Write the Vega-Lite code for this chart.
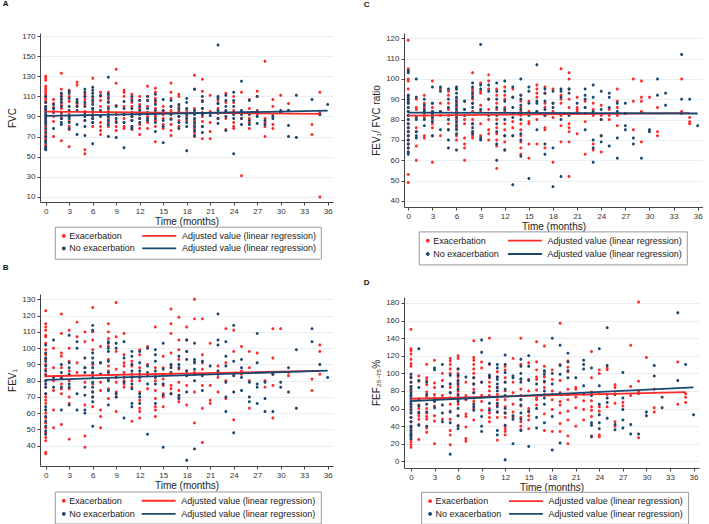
{
"$schema":"https://vega.github.io/schema/vega-lite/v6.json",
"background":"white",
"padding":{"left":2,"top":0,"right":0,"bottom":0},
"config":{
 "font":"Liberation Sans",
 "view":{"stroke":null},
 "axis":{"domainColor":"#444","tickColor":"#444","tickSize":3,"labelFontSize":8,"labelColor":"#333","titleFontSize":10,"titleFontWeight":"normal","titleColor":"#222","labelPadding":2,"domainWidth":1,"tickWidth":1},
 "axisY":{"grid":true,"gridColor":"#e3eaf0","gridWidth":0.8,"labelAngle":0,"titlePadding":4},
 "axisX":{"grid":false,"titlePadding":1},
 "legend":{"orient":"none","labelFontSize":9,"labelColor":"#222","padding":4.5,"title":null,"columns":2,"direction":"vertical","strokeColor":"#9a9a9a","symbolSize":32,"symbolStrokeWidth":1.8,"labelOffset":1,"labelLimit":300},
 "title":{"fontSize":8,"fontWeight":"bold","anchor":"start","frame":"bounds","color":"#111"},
 "point":{"filled":true,"size":73,"opacity":1}
},
"datasets":{
"fvc":[
{"m":0,"v":130,"g":"E"},{"m":0,"v":128,"g":"E"},{"m":0,"v":126,"g":"E"},{"m":0,"v":120,"g":"E"},{"m":0,"v":118,"g":"E"},{"m":0,"v":116,"g":"E"},{"m":0,"v":114,"g":"E"},{"m":0,"v":112,"g":"E"},{"m":0,"v":110,"g":"E"},{"m":0,"v":108,"g":"E"},{"m":0,"v":106,"g":"E"},{"m":0,"v":104,"g":"E"},{"m":0,"v":100,"g":"E"},{"m":0,"v":98,"g":"E"},{"m":0,"v":96,"g":"E"},{"m":0,"v":92,"g":"E"},{"m":0,"v":88,"g":"E"},{"m":0,"v":84,"g":"E"},{"m":0,"v":80,"g":"E"},{"m":0,"v":76,"g":"E"},{"m":0,"v":72,"g":"E"},{"m":0,"v":70,"g":"E"},{"m":0,"v":68,"g":"E"},{"m":0,"v":66,"g":"E"},{"m":0,"v":62,"g":"E"},{"m":0,"v":60,"g":"E"},{"m":0,"v":58,"g":"E"},
{"m":1,"v":107,"g":"E"},{"m":1,"v":103,"g":"E"},{"m":1,"v":99,"g":"E"},{"m":1,"v":95,"g":"E"},{"m":1,"v":90,"g":"E"},{"m":1,"v":85,"g":"E"},{"m":1,"v":70,"g":"E"},
{"m":2,"v":133,"g":"E"},{"m":2,"v":117,"g":"E"},{"m":2,"v":112,"g":"E"},{"m":2,"v":108,"g":"E"},{"m":2,"v":104,"g":"E"},{"m":2,"v":101,"g":"E"},{"m":2,"v":98,"g":"E"},{"m":2,"v":94,"g":"E"},{"m":2,"v":91,"g":"E"},{"m":2,"v":88,"g":"E"},{"m":2,"v":66,"g":"E"},
{"m":3,"v":116,"g":"E"},{"m":3,"v":110,"g":"E"},{"m":3,"v":105,"g":"E"},{"m":3,"v":92,"g":"E"},{"m":3,"v":90,"g":"E"},{"m":3,"v":85,"g":"E"},{"m":3,"v":80,"g":"E"},{"m":3,"v":77,"g":"E"},{"m":3,"v":60,"g":"E"},
{"m":4,"v":124,"g":"E"},{"m":4,"v":121,"g":"E"},{"m":4,"v":105,"g":"E"},{"m":4,"v":103,"g":"E"},{"m":4,"v":100,"g":"E"},
{"m":5,"v":112,"g":"E"},{"m":5,"v":110,"g":"E"},{"m":5,"v":107,"g":"E"},{"m":5,"v":102,"g":"E"},{"m":5,"v":95,"g":"E"},{"m":5,"v":92,"g":"E"},{"m":5,"v":86,"g":"E"},{"m":5,"v":57,"g":"E"},{"m":5,"v":53,"g":"E"},
{"m":6,"v":128,"g":"E"},{"m":6,"v":108,"g":"E"},{"m":6,"v":104,"g":"E"},{"m":6,"v":98,"g":"E"},{"m":6,"v":92,"g":"E"},{"m":6,"v":88,"g":"E"},{"m":6,"v":84,"g":"E"},{"m":6,"v":80,"g":"E"},
{"m":7,"v":114,"g":"E"},{"m":7,"v":110,"g":"E"},{"m":7,"v":106,"g":"E"},{"m":7,"v":100,"g":"E"},{"m":7,"v":95,"g":"E"},{"m":7,"v":84,"g":"E"},{"m":7,"v":80,"g":"E"},{"m":7,"v":76,"g":"E"},{"m":7,"v":72,"g":"E"},
{"m":8,"v":114,"g":"E"},{"m":8,"v":110,"g":"E"},{"m":8,"v":105,"g":"E"},{"m":8,"v":100,"g":"E"},{"m":8,"v":95,"g":"E"},{"m":8,"v":88,"g":"E"},{"m":8,"v":84,"g":"E"},{"m":8,"v":80,"g":"E"},
{"m":9,"v":137,"g":"E"},{"m":9,"v":123,"g":"E"},{"m":9,"v":101,"g":"E"},{"m":9,"v":92,"g":"E"},{"m":9,"v":85,"g":"E"},{"m":9,"v":80,"g":"E"},{"m":9,"v":76,"g":"E"},
{"m":10,"v":116,"g":"E"},{"m":10,"v":114,"g":"E"},{"m":10,"v":110,"g":"E"},{"m":10,"v":100,"g":"E"},{"m":10,"v":92,"g":"E"},{"m":10,"v":88,"g":"E"},{"m":10,"v":84,"g":"E"},{"m":10,"v":80,"g":"E"},{"m":10,"v":78,"g":"E"},
{"m":11,"v":112,"g":"E"},{"m":11,"v":108,"g":"E"},{"m":11,"v":104,"g":"E"},{"m":11,"v":100,"g":"E"},{"m":11,"v":94,"g":"E"},{"m":11,"v":90,"g":"E"},{"m":11,"v":86,"g":"E"},{"m":11,"v":80,"g":"E"},{"m":11,"v":77,"g":"E"},
{"m":12,"v":110,"g":"E"},{"m":12,"v":106,"g":"E"},{"m":12,"v":102,"g":"E"},{"m":12,"v":98,"g":"E"},{"m":12,"v":92,"g":"E"},{"m":12,"v":88,"g":"E"},{"m":12,"v":82,"g":"E"},{"m":12,"v":78,"g":"E"},{"m":12,"v":72,"g":"E"},
{"m":13,"v":120,"g":"E"},{"m":13,"v":110,"g":"E"},{"m":13,"v":106,"g":"E"},{"m":13,"v":100,"g":"E"},{"m":13,"v":90,"g":"E"},{"m":13,"v":84,"g":"E"},{"m":13,"v":78,"g":"E"},
{"m":14,"v":118,"g":"E"},{"m":14,"v":114,"g":"E"},{"m":14,"v":108,"g":"E"},{"m":14,"v":104,"g":"E"},{"m":14,"v":98,"g":"E"},{"m":14,"v":90,"g":"E"},{"m":14,"v":86,"g":"E"},{"m":14,"v":80,"g":"E"},{"m":14,"v":65,"g":"E"},
{"m":15,"v":100,"g":"E"},{"m":15,"v":96,"g":"E"},{"m":15,"v":92,"g":"E"},{"m":15,"v":88,"g":"E"},{"m":15,"v":82,"g":"E"},{"m":15,"v":78,"g":"E"},
{"m":16,"v":123,"g":"E"},{"m":16,"v":114,"g":"E"},{"m":16,"v":108,"g":"E"},{"m":16,"v":100,"g":"E"},{"m":16,"v":96,"g":"E"},{"m":16,"v":88,"g":"E"},{"m":16,"v":82,"g":"E"},{"m":16,"v":76,"g":"E"},{"m":16,"v":71,"g":"E"},
{"m":17,"v":112,"g":"E"},{"m":17,"v":110,"g":"E"},{"m":17,"v":100,"g":"E"},{"m":17,"v":96,"g":"E"},{"m":17,"v":90,"g":"E"},{"m":17,"v":86,"g":"E"},{"m":17,"v":80,"g":"E"},
{"m":18,"v":96,"g":"E"},{"m":18,"v":90,"g":"E"},{"m":18,"v":86,"g":"E"},
{"m":19,"v":131,"g":"E"},{"m":19,"v":117,"g":"E"},{"m":19,"v":98,"g":"E"},{"m":19,"v":94,"g":"E"},{"m":19,"v":86,"g":"E"},{"m":19,"v":82,"g":"E"},{"m":19,"v":78,"g":"E"},{"m":19,"v":74,"g":"E"},{"m":19,"v":70,"g":"E"},
{"m":20,"v":127,"g":"E"},{"m":20,"v":115,"g":"E"},{"m":20,"v":106,"g":"E"},{"m":20,"v":98,"g":"E"},{"m":20,"v":94,"g":"E"},{"m":20,"v":90,"g":"E"},{"m":20,"v":85,"g":"E"},{"m":20,"v":80,"g":"E"},{"m":20,"v":68,"g":"E"},
{"m":21,"v":111,"g":"E"},{"m":21,"v":95,"g":"E"},{"m":21,"v":84,"g":"E"},{"m":21,"v":75,"g":"E"},{"m":21,"v":68,"g":"E"},
{"m":22,"v":106,"g":"E"},{"m":22,"v":103,"g":"E"},{"m":22,"v":98,"g":"E"},{"m":22,"v":93,"g":"E"},{"m":22,"v":88,"g":"E"},
{"m":23,"v":113,"g":"E"},{"m":23,"v":104,"g":"E"},{"m":23,"v":95,"g":"E"},{"m":23,"v":88,"g":"E"},{"m":23,"v":77,"g":"E"},
{"m":24,"v":110,"g":"E"},{"m":24,"v":104,"g":"E"},{"m":24,"v":96,"g":"E"},{"m":24,"v":84,"g":"E"},{"m":24,"v":80,"g":"E"},{"m":24,"v":78,"g":"E"},
{"m":25,"v":114,"g":"E"},{"m":25,"v":94,"g":"E"},{"m":25,"v":88,"g":"E"},{"m":25,"v":31,"g":"E"},
{"m":26,"v":107,"g":"E"},{"m":26,"v":98,"g":"E"},{"m":26,"v":88,"g":"E"},{"m":26,"v":84,"g":"E"},{"m":26,"v":78,"g":"E"},
{"m":27,"v":115,"g":"E"},{"m":27,"v":110,"g":"E"},{"m":27,"v":96,"g":"E"},{"m":27,"v":92,"g":"E"},
{"m":28,"v":145,"g":"E"},{"m":28,"v":88,"g":"E"},{"m":28,"v":84,"g":"E"},{"m":28,"v":80,"g":"E"},{"m":28,"v":70,"g":"E"},
{"m":29,"v":107,"g":"E"},{"m":29,"v":100,"g":"E"},{"m":29,"v":92,"g":"E"},{"m":29,"v":82,"g":"E"},{"m":29,"v":78,"g":"E"},
{"m":30,"v":111,"g":"E"},{"m":30,"v":94,"g":"E"},
{"m":31,"v":103,"g":"E"},{"m":31,"v":96,"g":"E"},
{"m":34,"v":82,"g":"E"},{"m":34,"v":72,"g":"E"},
{"m":35,"v":114,"g":"E"},{"m":35,"v":94,"g":"E"},{"m":35,"v":92,"g":"E"},{"m":35,"v":10,"g":"E"},
{"m":0,"v":110,"g":"N"},{"m":0,"v":104,"g":"N"},{"m":0,"v":100,"g":"N"},{"m":0,"v":98,"g":"N"},{"m":0,"v":96,"g":"N"},{"m":0,"v":94,"g":"N"},{"m":0,"v":92,"g":"N"},{"m":0,"v":90,"g":"N"},{"m":0,"v":88,"g":"N"},{"m":0,"v":86,"g":"N"},{"m":0,"v":84,"g":"N"},{"m":0,"v":82,"g":"N"},{"m":0,"v":78,"g":"N"},{"m":0,"v":74,"g":"N"},{"m":0,"v":70,"g":"N"},{"m":0,"v":66,"g":"N"},{"m":0,"v":64,"g":"N"},{"m":0,"v":60,"g":"N"},{"m":0,"v":58,"g":"N"},{"m":0,"v":57,"g":"N"},
{"m":1,"v":102,"g":"N"},{"m":1,"v":98,"g":"N"},{"m":1,"v":94,"g":"N"},{"m":1,"v":78,"g":"N"},
{"m":2,"v":113,"g":"N"},{"m":2,"v":110,"g":"N"},{"m":2,"v":107,"g":"N"},{"m":2,"v":104,"g":"N"},{"m":2,"v":100,"g":"N"},{"m":2,"v":94,"g":"N"},{"m":2,"v":88,"g":"N"},{"m":2,"v":84,"g":"N"},{"m":2,"v":82,"g":"N"},
{"m":3,"v":115,"g":"N"},{"m":3,"v":113,"g":"N"},{"m":3,"v":108,"g":"N"},{"m":3,"v":100,"g":"N"},{"m":3,"v":96,"g":"N"},{"m":3,"v":90,"g":"N"},{"m":3,"v":88,"g":"N"},{"m":3,"v":84,"g":"N"},{"m":3,"v":78,"g":"N"},
{"m":4,"v":107,"g":"N"},{"m":4,"v":104,"g":"N"},{"m":4,"v":100,"g":"N"},{"m":4,"v":96,"g":"N"},{"m":4,"v":82,"g":"N"},{"m":4,"v":72,"g":"N"},
{"m":5,"v":117,"g":"N"},{"m":5,"v":114,"g":"N"},{"m":5,"v":110,"g":"N"},{"m":5,"v":104,"g":"N"},{"m":5,"v":100,"g":"N"},{"m":5,"v":94,"g":"N"},{"m":5,"v":90,"g":"N"},{"m":5,"v":86,"g":"N"},{"m":5,"v":80,"g":"N"},{"m":5,"v":71,"g":"N"},
{"m":6,"v":119,"g":"N"},{"m":6,"v":116,"g":"N"},{"m":6,"v":113,"g":"N"},{"m":6,"v":110,"g":"N"},{"m":6,"v":106,"g":"N"},{"m":6,"v":102,"g":"N"},{"m":6,"v":98,"g":"N"},{"m":6,"v":95,"g":"N"},{"m":6,"v":91,"g":"N"},{"m":6,"v":88,"g":"N"},{"m":6,"v":84,"g":"N"},{"m":6,"v":63,"g":"N"},
{"m":7,"v":111,"g":"N"},{"m":7,"v":96,"g":"N"},{"m":7,"v":90,"g":"N"},
{"m":8,"v":129,"g":"N"},{"m":8,"v":112,"g":"N"},{"m":8,"v":108,"g":"N"},{"m":8,"v":104,"g":"N"},{"m":8,"v":98,"g":"N"},{"m":8,"v":94,"g":"N"},{"m":8,"v":90,"g":"N"},{"m":8,"v":86,"g":"N"},{"m":8,"v":82,"g":"N"},{"m":8,"v":70,"g":"N"},
{"m":9,"v":100,"g":"N"},{"m":9,"v":88,"g":"N"},{"m":9,"v":84,"g":"N"},{"m":9,"v":69,"g":"N"},
{"m":10,"v":105,"g":"N"},{"m":10,"v":98,"g":"N"},{"m":10,"v":92,"g":"N"},{"m":10,"v":84,"g":"N"},{"m":10,"v":59,"g":"N"},
{"m":11,"v":110,"g":"N"},{"m":11,"v":106,"g":"N"},{"m":11,"v":98,"g":"N"},{"m":11,"v":94,"g":"N"},{"m":11,"v":90,"g":"N"},{"m":11,"v":86,"g":"N"},{"m":11,"v":80,"g":"N"},{"m":11,"v":78,"g":"N"},
{"m":12,"v":106,"g":"N"},{"m":12,"v":100,"g":"N"},{"m":12,"v":96,"g":"N"},{"m":12,"v":92,"g":"N"},{"m":12,"v":88,"g":"N"},{"m":12,"v":84,"g":"N"},
{"m":13,"v":110,"g":"N"},{"m":13,"v":106,"g":"N"},{"m":13,"v":98,"g":"N"},{"m":13,"v":94,"g":"N"},{"m":13,"v":88,"g":"N"},{"m":13,"v":86,"g":"N"},
{"m":14,"v":112,"g":"N"},{"m":14,"v":106,"g":"N"},{"m":14,"v":102,"g":"N"},{"m":14,"v":96,"g":"N"},{"m":14,"v":92,"g":"N"},{"m":14,"v":88,"g":"N"},{"m":14,"v":84,"g":"N"},{"m":14,"v":75,"g":"N"},
{"m":15,"v":107,"g":"N"},{"m":15,"v":96,"g":"N"},{"m":15,"v":86,"g":"N"},{"m":15,"v":80,"g":"N"},{"m":15,"v":64,"g":"N"},
{"m":16,"v":106,"g":"N"},{"m":16,"v":100,"g":"N"},{"m":16,"v":92,"g":"N"},{"m":16,"v":87,"g":"N"},
{"m":17,"v":102,"g":"N"},{"m":17,"v":98,"g":"N"},{"m":17,"v":94,"g":"N"},{"m":17,"v":90,"g":"N"},{"m":17,"v":84,"g":"N"},{"m":17,"v":78,"g":"N"},
{"m":18,"v":108,"g":"N"},{"m":18,"v":104,"g":"N"},{"m":18,"v":98,"g":"N"},{"m":18,"v":92,"g":"N"},{"m":18,"v":88,"g":"N"},{"m":18,"v":84,"g":"N"},{"m":18,"v":80,"g":"N"},{"m":18,"v":56,"g":"N"},
{"m":19,"v":117,"g":"N"},{"m":19,"v":96,"g":"N"},{"m":19,"v":92,"g":"N"},{"m":19,"v":88,"g":"N"},{"m":19,"v":84,"g":"N"},{"m":19,"v":80,"g":"N"},{"m":19,"v":76,"g":"N"},{"m":19,"v":71,"g":"N"},
{"m":20,"v":110,"g":"N"},{"m":20,"v":105,"g":"N"},{"m":20,"v":98,"g":"N"},{"m":20,"v":92,"g":"N"},{"m":20,"v":80,"g":"N"},{"m":20,"v":74,"g":"N"},
{"m":21,"v":91,"g":"N"},
{"m":22,"v":161,"g":"N"},{"m":22,"v":110,"g":"N"},{"m":22,"v":108,"g":"N"},{"m":22,"v":103,"g":"N"},{"m":22,"v":96,"g":"N"},{"m":22,"v":88,"g":"N"},{"m":22,"v":83,"g":"N"},
{"m":23,"v":111,"g":"N"},{"m":23,"v":106,"g":"N"},{"m":23,"v":100,"g":"N"},{"m":23,"v":96,"g":"N"},{"m":23,"v":90,"g":"N"},{"m":23,"v":76,"g":"N"},
{"m":24,"v":114,"g":"N"},{"m":24,"v":106,"g":"N"},{"m":24,"v":100,"g":"N"},{"m":24,"v":94,"g":"N"},{"m":24,"v":92,"g":"N"},{"m":24,"v":88,"g":"N"},{"m":24,"v":53,"g":"N"},
{"m":25,"v":125,"g":"N"},{"m":25,"v":96,"g":"N"},{"m":25,"v":92,"g":"N"},{"m":25,"v":88,"g":"N"},{"m":25,"v":82,"g":"N"},
{"m":26,"v":106,"g":"N"},{"m":26,"v":92,"g":"N"},{"m":26,"v":86,"g":"N"},{"m":26,"v":82,"g":"N"},
{"m":27,"v":110,"g":"N"},{"m":27,"v":95,"g":"N"},{"m":27,"v":90,"g":"N"},{"m":27,"v":83,"g":"N"},
{"m":28,"v":86,"g":"N"},{"m":28,"v":82,"g":"N"},
{"m":29,"v":90,"g":"N"},{"m":29,"v":88,"g":"N"},
{"m":30,"v":96,"g":"N"},{"m":30,"v":94,"g":"N"},
{"m":31,"v":96,"g":"N"},{"m":31,"v":81,"g":"N"},{"m":31,"v":70,"g":"N"},
{"m":32,"v":111,"g":"N"},{"m":32,"v":69,"g":"N"},
{"m":34,"v":107,"g":"N"},{"m":35,"v":92,"g":"N"},{"m":36,"v":102,"g":"N"}
],
"fvcFit":[{"m":0,"v":94.8,"g":"Ef"},{"m":35,"v":92.6,"g":"Ef"},{"m":0,"v":90.6,"g":"Nf"},{"m":36,"v":95.8,"g":"Nf"}],
"ratio":[
{"m":0,"v":119,"g":"E"},{"m":0,"v":105,"g":"E"},{"m":0,"v":104,"g":"E"},{"m":0,"v":100,"g":"E"},{"m":0,"v":99,"g":"E"},{"m":0,"v":95,"g":"E"},{"m":0,"v":92,"g":"E"},{"m":0,"v":90,"g":"E"},{"m":0,"v":88,"g":"E"},{"m":0,"v":86,"g":"E"},{"m":0,"v":84,"g":"E"},{"m":0,"v":82,"g":"E"},{"m":0,"v":80,"g":"E"},{"m":0,"v":78,"g":"E"},{"m":0,"v":76,"g":"E"},{"m":0,"v":74,"g":"E"},{"m":0,"v":72,"g":"E"},{"m":0,"v":70,"g":"E"},{"m":0,"v":68,"g":"E"},{"m":0,"v":66,"g":"E"},{"m":0,"v":64,"g":"E"},{"m":0,"v":53,"g":"E"},{"m":0,"v":49,"g":"E"},
{"m":1,"v":90,"g":"E"},{"m":1,"v":86,"g":"E"},{"m":1,"v":85,"g":"E"},{"m":1,"v":76,"g":"E"},{"m":1,"v":74,"g":"E"},{"m":1,"v":67,"g":"E"},{"m":1,"v":60,"g":"E"},
{"m":2,"v":92,"g":"E"},{"m":2,"v":88,"g":"E"},{"m":2,"v":86,"g":"E"},{"m":2,"v":83,"g":"E"},{"m":2,"v":81,"g":"E"},{"m":2,"v":72,"g":"E"},{"m":2,"v":71,"g":"E"},
{"m":3,"v":99,"g":"E"},{"m":3,"v":88,"g":"E"},{"m":3,"v":86,"g":"E"},{"m":3,"v":84,"g":"E"},{"m":3,"v":82,"g":"E"},{"m":3,"v":80,"g":"E"},{"m":3,"v":78,"g":"E"},{"m":3,"v":76,"g":"E"},{"m":3,"v":72,"g":"E"},{"m":3,"v":59,"g":"E"},
{"m":4,"v":95,"g":"E"},{"m":4,"v":88,"g":"E"},{"m":4,"v":84,"g":"E"},{"m":4,"v":82,"g":"E"},{"m":4,"v":72,"g":"E"},
{"m":5,"v":94,"g":"E"},{"m":5,"v":92,"g":"E"},{"m":5,"v":88,"g":"E"},{"m":5,"v":85,"g":"E"},{"m":5,"v":82,"g":"E"},{"m":5,"v":78,"g":"E"},{"m":5,"v":75,"g":"E"},
{"m":6,"v":95,"g":"E"},{"m":6,"v":90,"g":"E"},{"m":6,"v":88,"g":"E"},{"m":6,"v":86,"g":"E"},{"m":6,"v":84,"g":"E"},{"m":6,"v":82,"g":"E"},{"m":6,"v":80,"g":"E"},{"m":6,"v":78,"g":"E"},{"m":6,"v":76,"g":"E"},{"m":6,"v":72,"g":"E"},{"m":6,"v":70,"g":"E"},
{"m":7,"v":89,"g":"E"},{"m":7,"v":85,"g":"E"},{"m":7,"v":82,"g":"E"},{"m":7,"v":80,"g":"E"},{"m":7,"v":78,"g":"E"},{"m":7,"v":71,"g":"E"},{"m":7,"v":68,"g":"E"},{"m":7,"v":66,"g":"E"},{"m":7,"v":60,"g":"E"},
{"m":8,"v":103,"g":"E"},{"m":8,"v":95,"g":"E"},{"m":8,"v":94,"g":"E"},{"m":8,"v":92,"g":"E"},{"m":8,"v":90,"g":"E"},{"m":8,"v":88,"g":"E"},{"m":8,"v":84,"g":"E"},{"m":8,"v":80,"g":"E"},{"m":8,"v":78,"g":"E"},{"m":8,"v":74,"g":"E"},{"m":8,"v":72,"g":"E"},{"m":8,"v":71,"g":"E"},
{"m":9,"v":98,"g":"E"},{"m":9,"v":94,"g":"E"},{"m":9,"v":93,"g":"E"},{"m":9,"v":87,"g":"E"},{"m":9,"v":84,"g":"E"},{"m":9,"v":78,"g":"E"},{"m":9,"v":72,"g":"E"},
{"m":10,"v":102,"g":"E"},{"m":10,"v":99,"g":"E"},{"m":10,"v":95,"g":"E"},{"m":10,"v":90,"g":"E"},{"m":10,"v":85,"g":"E"},{"m":10,"v":80,"g":"E"},{"m":10,"v":75,"g":"E"},{"m":10,"v":73,"g":"E"},{"m":10,"v":70,"g":"E"},
{"m":11,"v":95,"g":"E"},{"m":11,"v":92,"g":"E"},{"m":11,"v":88,"g":"E"},{"m":11,"v":85,"g":"E"},{"m":11,"v":80,"g":"E"},{"m":11,"v":76,"g":"E"},{"m":11,"v":73,"g":"E"},{"m":11,"v":70,"g":"E"},{"m":11,"v":67,"g":"E"},{"m":11,"v":56,"g":"E"},
{"m":12,"v":96,"g":"E"},{"m":12,"v":92,"g":"E"},{"m":12,"v":90,"g":"E"},{"m":12,"v":86,"g":"E"},{"m":12,"v":84,"g":"E"},{"m":12,"v":78,"g":"E"},{"m":12,"v":75,"g":"E"},{"m":12,"v":72,"g":"E"},{"m":12,"v":69,"g":"E"},{"m":12,"v":65,"g":"E"},
{"m":13,"v":95,"g":"E"},{"m":13,"v":91,"g":"E"},{"m":13,"v":83,"g":"E"},{"m":13,"v":79,"g":"E"},{"m":13,"v":76,"g":"E"},{"m":13,"v":72,"g":"E"},
{"m":14,"v":92,"g":"E"},{"m":14,"v":89,"g":"E"},{"m":14,"v":86,"g":"E"},{"m":14,"v":84,"g":"E"},{"m":14,"v":82,"g":"E"},{"m":14,"v":78,"g":"E"},{"m":14,"v":75,"g":"E"},{"m":14,"v":72,"g":"E"},{"m":14,"v":69,"g":"E"},{"m":14,"v":66,"g":"E"},{"m":14,"v":63,"g":"E"},
{"m":15,"v":89,"g":"E"},{"m":15,"v":84,"g":"E"},{"m":15,"v":79,"g":"E"},{"m":15,"v":78,"g":"E"},{"m":15,"v":68,"g":"E"},{"m":15,"v":61,"g":"E"},
{"m":16,"v":97,"g":"E"},{"m":16,"v":95,"g":"E"},{"m":16,"v":93,"g":"E"},{"m":16,"v":91,"g":"E"},{"m":16,"v":84,"g":"E"},{"m":16,"v":80,"g":"E"},{"m":16,"v":68,"g":"E"},
{"m":17,"v":96,"g":"E"},{"m":17,"v":93,"g":"E"},{"m":17,"v":88,"g":"E"},{"m":17,"v":86,"g":"E"},{"m":17,"v":82,"g":"E"},{"m":17,"v":76,"g":"E"},{"m":17,"v":75,"g":"E"},{"m":17,"v":66,"g":"E"},
{"m":18,"v":95,"g":"E"},{"m":18,"v":88,"g":"E"},{"m":18,"v":84,"g":"E"},{"m":18,"v":81,"g":"E"},{"m":18,"v":59,"g":"E"},
{"m":19,"v":105,"g":"E"},{"m":19,"v":92,"g":"E"},{"m":19,"v":90,"g":"E"},{"m":19,"v":88,"g":"E"},{"m":19,"v":82,"g":"E"},{"m":19,"v":77,"g":"E"},{"m":19,"v":69,"g":"E"},
{"m":20,"v":103,"g":"E"},{"m":20,"v":100,"g":"E"},{"m":20,"v":95,"g":"E"},{"m":20,"v":90,"g":"E"},{"m":20,"v":86,"g":"E"},{"m":20,"v":78,"g":"E"},{"m":20,"v":76,"g":"E"},{"m":20,"v":74,"g":"E"},{"m":20,"v":69,"g":"E"},{"m":20,"v":52,"g":"E"},
{"m":21,"v":91,"g":"E"},{"m":21,"v":86,"g":"E"},{"m":21,"v":85,"g":"E"},{"m":21,"v":84,"g":"E"},{"m":21,"v":73,"g":"E"},
{"m":22,"v":89,"g":"E"},{"m":22,"v":86,"g":"E"},{"m":22,"v":83,"g":"E"},{"m":22,"v":79,"g":"E"},{"m":22,"v":63,"g":"E"},
{"m":23,"v":88,"g":"E"},{"m":23,"v":85,"g":"E"},{"m":23,"v":82,"g":"E"},{"m":23,"v":68,"g":"E"},{"m":23,"v":65,"g":"E"},
{"m":24,"v":87,"g":"E"},{"m":24,"v":82,"g":"E"},{"m":24,"v":80,"g":"E"},{"m":24,"v":72,"g":"E"},{"m":24,"v":64,"g":"E"},
{"m":25,"v":85,"g":"E"},{"m":25,"v":82,"g":"E"},{"m":25,"v":80,"g":"E"},
{"m":26,"v":95,"g":"E"},{"m":26,"v":89,"g":"E"},{"m":26,"v":86,"g":"E"},{"m":26,"v":82,"g":"E"},{"m":26,"v":77,"g":"E"},
{"m":28,"v":100,"g":"E"},{"m":28,"v":89,"g":"E"},{"m":28,"v":75,"g":"E"},
{"m":29,"v":99,"g":"E"},{"m":29,"v":91,"g":"E"},{"m":29,"v":89,"g":"E"},{"m":29,"v":84,"g":"E"},{"m":29,"v":69,"g":"E"},
{"m":30,"v":91,"g":"E"},
{"m":31,"v":86,"g":"E"},{"m":31,"v":74,"g":"E"},{"m":31,"v":72,"g":"E"},
{"m":34,"v":100,"g":"E"},{"m":34,"v":84,"g":"E"},{"m":34,"v":83,"g":"E"},
{"m":35,"v":81,"g":"E"},{"m":35,"v":79,"g":"E"},{"m":35,"v":78,"g":"E"},
{"m":0,"v":104,"g":"N"},{"m":0,"v":103,"g":"N"},{"m":0,"v":92,"g":"N"},{"m":0,"v":91,"g":"N"},{"m":0,"v":90,"g":"N"},{"m":0,"v":89,"g":"N"},{"m":0,"v":88,"g":"N"},{"m":0,"v":86,"g":"N"},{"m":0,"v":84,"g":"N"},{"m":0,"v":82,"g":"N"},{"m":0,"v":80,"g":"N"},{"m":0,"v":78,"g":"N"},{"m":0,"v":76,"g":"N"},{"m":0,"v":74,"g":"N"},{"m":0,"v":72,"g":"N"},{"m":0,"v":70,"g":"N"},{"m":0,"v":68,"g":"N"},{"m":0,"v":66,"g":"N"},{"m":0,"v":64,"g":"N"},{"m":0,"v":63,"g":"N"},
{"m":1,"v":100,"g":"N"},{"m":1,"v":91,"g":"N"},{"m":1,"v":81,"g":"N"},{"m":1,"v":80,"g":"N"},{"m":1,"v":74,"g":"N"},{"m":1,"v":72,"g":"N"},{"m":1,"v":71,"g":"N"},
{"m":2,"v":90,"g":"N"},{"m":2,"v":87,"g":"N"},{"m":2,"v":85,"g":"N"},{"m":2,"v":84,"g":"N"},{"m":2,"v":80,"g":"N"},{"m":2,"v":77,"g":"N"},
{"m":3,"v":96,"g":"N"},{"m":3,"v":88,"g":"N"},{"m":3,"v":84,"g":"N"},{"m":3,"v":83,"g":"N"},{"m":3,"v":82,"g":"N"},{"m":3,"v":81,"g":"N"},{"m":3,"v":79,"g":"N"},{"m":3,"v":72,"g":"N"},
{"m":4,"v":96,"g":"N"},{"m":4,"v":94,"g":"N"},{"m":4,"v":84,"g":"N"},{"m":4,"v":75,"g":"N"},
{"m":5,"v":95,"g":"N"},{"m":5,"v":90,"g":"N"},{"m":5,"v":86,"g":"N"},{"m":5,"v":80,"g":"N"},{"m":5,"v":75,"g":"N"},{"m":5,"v":70,"g":"N"},{"m":5,"v":66,"g":"N"},
{"m":6,"v":96,"g":"N"},{"m":6,"v":95,"g":"N"},{"m":6,"v":93,"g":"N"},{"m":6,"v":91,"g":"N"},{"m":6,"v":89,"g":"N"},{"m":6,"v":87,"g":"N"},{"m":6,"v":85,"g":"N"},{"m":6,"v":83,"g":"N"},{"m":6,"v":81,"g":"N"},{"m":6,"v":79,"g":"N"},{"m":6,"v":77,"g":"N"},{"m":6,"v":75,"g":"N"},{"m":6,"v":73,"g":"N"},{"m":6,"v":65,"g":"N"},
{"m":7,"v":89,"g":"N"},{"m":7,"v":85,"g":"N"},{"m":7,"v":82,"g":"N"},
{"m":8,"v":98,"g":"N"},{"m":8,"v":96,"g":"N"},{"m":8,"v":93,"g":"N"},{"m":8,"v":91,"g":"N"},{"m":8,"v":88,"g":"N"},{"m":8,"v":86,"g":"N"},{"m":8,"v":78,"g":"N"},{"m":8,"v":76,"g":"N"},{"m":8,"v":74,"g":"N"},{"m":8,"v":73,"g":"N"},
{"m":9,"v":117,"g":"N"},{"m":9,"v":97,"g":"N"},{"m":9,"v":95,"g":"N"},{"m":9,"v":85,"g":"N"},{"m":9,"v":71,"g":"N"},{"m":9,"v":70,"g":"N"},
{"m":10,"v":97,"g":"N"},{"m":10,"v":94,"g":"N"},{"m":10,"v":90,"g":"N"},{"m":10,"v":82,"g":"N"},
{"m":11,"v":98,"g":"N"},{"m":11,"v":94,"g":"N"},{"m":11,"v":90,"g":"N"},{"m":11,"v":86,"g":"N"},{"m":11,"v":82,"g":"N"},{"m":11,"v":78,"g":"N"},{"m":11,"v":74,"g":"N"},{"m":11,"v":68,"g":"N"},{"m":11,"v":60,"g":"N"},
{"m":12,"v":99,"g":"N"},{"m":12,"v":94,"g":"N"},{"m":12,"v":89,"g":"N"},{"m":12,"v":85,"g":"N"},{"m":12,"v":80,"g":"N"},{"m":12,"v":72,"g":"N"},{"m":12,"v":65,"g":"N"},
{"m":13,"v":96,"g":"N"},{"m":13,"v":91,"g":"N"},{"m":13,"v":86,"g":"N"},{"m":13,"v":81,"g":"N"},{"m":13,"v":72,"g":"N"},{"m":13,"v":48,"g":"N"},
{"m":14,"v":100,"g":"N"},{"m":14,"v":92,"g":"N"},{"m":14,"v":90,"g":"N"},{"m":14,"v":87,"g":"N"},{"m":14,"v":85,"g":"N"},{"m":14,"v":83,"g":"N"},{"m":14,"v":80,"g":"N"},{"m":14,"v":73,"g":"N"},{"m":14,"v":70,"g":"N"},{"m":14,"v":62,"g":"N"},
{"m":15,"v":96,"g":"N"},{"m":15,"v":94,"g":"N"},{"m":15,"v":88,"g":"N"},{"m":15,"v":82,"g":"N"},{"m":15,"v":51,"g":"N"},
{"m":16,"v":107,"g":"N"},{"m":16,"v":89,"g":"N"},{"m":16,"v":88,"g":"N"},{"m":16,"v":84,"g":"N"},{"m":16,"v":75,"g":"N"},
{"m":17,"v":95,"g":"N"},{"m":17,"v":93,"g":"N"},{"m":17,"v":89,"g":"N"},{"m":17,"v":85,"g":"N"},{"m":17,"v":82,"g":"N"},{"m":17,"v":68,"g":"N"},{"m":17,"v":63,"g":"N"},
{"m":18,"v":94,"g":"N"},{"m":18,"v":88,"g":"N"},{"m":18,"v":86,"g":"N"},{"m":18,"v":66,"g":"N"},{"m":18,"v":47,"g":"N"},
{"m":19,"v":95,"g":"N"},{"m":19,"v":94,"g":"N"},{"m":19,"v":91,"g":"N"},{"m":19,"v":80,"g":"N"},{"m":19,"v":52,"g":"N"},
{"m":20,"v":95,"g":"N"},{"m":20,"v":93,"g":"N"},{"m":20,"v":82,"g":"N"},
{"m":21,"v":88,"g":"N"},
{"m":22,"v":95,"g":"N"},{"m":22,"v":92,"g":"N"},{"m":22,"v":90,"g":"N"},{"m":22,"v":86,"g":"N"},{"m":22,"v":75,"g":"N"},
{"m":23,"v":97,"g":"N"},{"m":23,"v":91,"g":"N"},{"m":23,"v":84,"g":"N"},{"m":23,"v":70,"g":"N"},{"m":23,"v":66,"g":"N"},{"m":23,"v":59,"g":"N"},
{"m":24,"v":94,"g":"N"},{"m":24,"v":85,"g":"N"},{"m":24,"v":80,"g":"N"},{"m":24,"v":72,"g":"N"},{"m":24,"v":69,"g":"N"},
{"m":25,"v":93,"g":"N"},{"m":25,"v":91,"g":"N"},{"m":25,"v":86,"g":"N"},{"m":25,"v":67,"g":"N"},
{"m":26,"v":88,"g":"N"},{"m":26,"v":84,"g":"N"},{"m":26,"v":71,"g":"N"},{"m":26,"v":61,"g":"N"},
{"m":27,"v":88,"g":"N"},{"m":27,"v":83,"g":"N"},{"m":27,"v":77,"g":"N"},{"m":27,"v":75,"g":"N"},
{"m":28,"v":71,"g":"N"},{"m":28,"v":68,"g":"N"},
{"m":29,"v":61,"g":"N"},
{"m":30,"v":75,"g":"N"},{"m":30,"v":74,"g":"N"},
{"m":31,"v":100,"g":"N"},{"m":31,"v":92,"g":"N"},
{"m":32,"v":93,"g":"N"},{"m":32,"v":87,"g":"N"},
{"m":34,"v":112,"g":"N"},{"m":34,"v":90,"g":"N"},
{"m":35,"v":90,"g":"N"},{"m":36,"v":77,"g":"N"}
],
"ratioFit":[{"m":0,"v":82.0,"g":"Ef"},{"m":35,"v":83.2,"g":"Ef"},{"m":0,"v":83.4,"g":"Nf"},{"m":36,"v":83.0,"g":"Nf"}],
"fev1":[
{"m":0,"v":123,"g":"E"},{"m":0,"v":115,"g":"E"},{"m":0,"v":113,"g":"E"},{"m":0,"v":111,"g":"E"},{"m":0,"v":108,"g":"E"},{"m":0,"v":107,"g":"E"},{"m":0,"v":103,"g":"E"},{"m":0,"v":99,"g":"E"},{"m":0,"v":96,"g":"E"},{"m":0,"v":93,"g":"E"},{"m":0,"v":90,"g":"E"},{"m":0,"v":87,"g":"E"},{"m":0,"v":84,"g":"E"},{"m":0,"v":80,"g":"E"},{"m":0,"v":76,"g":"E"},{"m":0,"v":72,"g":"E"},{"m":0,"v":70,"g":"E"},{"m":0,"v":68,"g":"E"},{"m":0,"v":66,"g":"E"},{"m":0,"v":62,"g":"E"},{"m":0,"v":60,"g":"E"},{"m":0,"v":57,"g":"E"},{"m":0,"v":54,"g":"E"},{"m":0,"v":51,"g":"E"},{"m":0,"v":48,"g":"E"},{"m":0,"v":45,"g":"E"},{"m":0,"v":43,"g":"E"},{"m":0,"v":36,"g":"E"},{"m":0,"v":35,"g":"E"},
{"m":1,"v":100,"g":"E"},{"m":1,"v":88,"g":"E"},{"m":1,"v":80,"g":"E"},{"m":1,"v":74,"g":"E"},{"m":1,"v":62,"g":"E"},{"m":1,"v":51,"g":"E"},
{"m":2,"v":121,"g":"E"},{"m":2,"v":109,"g":"E"},{"m":2,"v":97,"g":"E"},{"m":2,"v":95,"g":"E"},{"m":2,"v":88,"g":"E"},{"m":2,"v":82,"g":"E"},{"m":2,"v":78,"g":"E"},{"m":2,"v":75,"g":"E"},{"m":2,"v":72,"g":"E"},{"m":2,"v":53,"g":"E"},
{"m":3,"v":111,"g":"E"},{"m":3,"v":100,"g":"E"},{"m":3,"v":92,"g":"E"},{"m":3,"v":86,"g":"E"},{"m":3,"v":80,"g":"E"},{"m":3,"v":75,"g":"E"},{"m":3,"v":70,"g":"E"},{"m":3,"v":66,"g":"E"},{"m":3,"v":44,"g":"E"},
{"m":4,"v":116,"g":"E"},{"m":4,"v":107,"g":"E"},{"m":4,"v":91,"g":"E"},{"m":4,"v":85,"g":"E"},
{"m":5,"v":110,"g":"E"},{"m":5,"v":104,"g":"E"},{"m":5,"v":88,"g":"E"},{"m":5,"v":79,"g":"E"},{"m":5,"v":65,"g":"E"},{"m":5,"v":46,"g":"E"},{"m":5,"v":39,"g":"E"},
{"m":6,"v":125,"g":"E"},{"m":6,"v":110,"g":"E"},{"m":6,"v":105,"g":"E"},{"m":6,"v":99,"g":"E"},{"m":6,"v":90,"g":"E"},{"m":6,"v":84,"g":"E"},{"m":6,"v":78,"g":"E"},{"m":6,"v":73,"g":"E"},{"m":6,"v":70,"g":"E"},{"m":6,"v":64,"g":"E"},
{"m":7,"v":101,"g":"E"},{"m":7,"v":91,"g":"E"},{"m":7,"v":84,"g":"E"},{"m":7,"v":79,"g":"E"},{"m":7,"v":74,"g":"E"},{"m":7,"v":62,"g":"E"},{"m":7,"v":58,"g":"E"},{"m":7,"v":51,"g":"E"},
{"m":8,"v":115,"g":"E"},{"m":8,"v":110,"g":"E"},{"m":8,"v":106,"g":"E"},{"m":8,"v":101,"g":"E"},{"m":8,"v":93,"g":"E"},{"m":8,"v":89,"g":"E"},{"m":8,"v":86,"g":"E"},{"m":8,"v":81,"g":"E"},{"m":8,"v":75,"g":"E"},{"m":8,"v":69,"g":"E"},
{"m":9,"v":128,"g":"E"},{"m":9,"v":107,"g":"E"},{"m":9,"v":98,"g":"E"},{"m":9,"v":87,"g":"E"},{"m":9,"v":79,"g":"E"},{"m":9,"v":73,"g":"E"},{"m":9,"v":70,"g":"E"},{"m":9,"v":61,"g":"E"},
{"m":10,"v":109,"g":"E"},{"m":10,"v":96,"g":"E"},{"m":10,"v":91,"g":"E"},{"m":10,"v":89,"g":"E"},{"m":10,"v":85,"g":"E"},{"m":10,"v":80,"g":"E"},{"m":10,"v":78,"g":"E"},{"m":10,"v":76,"g":"E"},
{"m":11,"v":92,"g":"E"},{"m":11,"v":89,"g":"E"},{"m":11,"v":84,"g":"E"},{"m":11,"v":80,"g":"E"},{"m":11,"v":76,"g":"E"},{"m":11,"v":55,"g":"E"},
{"m":12,"v":99,"g":"E"},{"m":12,"v":96,"g":"E"},{"m":12,"v":88,"g":"E"},{"m":12,"v":84,"g":"E"},{"m":12,"v":80,"g":"E"},{"m":12,"v":73,"g":"E"},{"m":12,"v":68,"g":"E"},{"m":12,"v":63,"g":"E"},{"m":12,"v":61,"g":"E"},{"m":12,"v":57,"g":"E"},
{"m":13,"v":101,"g":"E"},{"m":13,"v":90,"g":"E"},{"m":13,"v":83,"g":"E"},{"m":13,"v":75,"g":"E"},
{"m":14,"v":113,"g":"E"},{"m":14,"v":88,"g":"E"},{"m":14,"v":84,"g":"E"},{"m":14,"v":80,"g":"E"},{"m":14,"v":74,"g":"E"},{"m":14,"v":69,"g":"E"},{"m":14,"v":64,"g":"E"},{"m":14,"v":62,"g":"E"},{"m":14,"v":58,"g":"E"},
{"m":15,"v":95,"g":"E"},{"m":15,"v":88,"g":"E"},{"m":15,"v":81,"g":"E"},{"m":15,"v":77,"g":"E"},{"m":15,"v":72,"g":"E"},{"m":15,"v":70,"g":"E"},{"m":15,"v":64,"g":"E"},
{"m":16,"v":124,"g":"E"},{"m":16,"v":115,"g":"E"},{"m":16,"v":109,"g":"E"},{"m":16,"v":97,"g":"E"},{"m":16,"v":89,"g":"E"},{"m":16,"v":84,"g":"E"},{"m":16,"v":77,"g":"E"},{"m":16,"v":75,"g":"E"},{"m":16,"v":72,"g":"E"},
{"m":17,"v":119,"g":"E"},{"m":17,"v":105,"g":"E"},{"m":17,"v":99,"g":"E"},{"m":17,"v":93,"g":"E"},{"m":17,"v":87,"g":"E"},{"m":17,"v":79,"g":"E"},{"m":17,"v":74,"g":"E"},{"m":17,"v":70,"g":"E"},{"m":17,"v":67,"g":"E"},
{"m":18,"v":113,"g":"E"},{"m":18,"v":105,"g":"E"},{"m":18,"v":98,"g":"E"},{"m":18,"v":86,"g":"E"},{"m":18,"v":77,"g":"E"},{"m":18,"v":65,"g":"E"},
{"m":19,"v":130,"g":"E"},{"m":19,"v":118,"g":"E"},{"m":19,"v":92,"g":"E"},{"m":19,"v":85,"g":"E"},{"m":19,"v":73,"g":"E"},{"m":19,"v":54,"g":"E"},
{"m":20,"v":118,"g":"E"},{"m":20,"v":96,"g":"E"},{"m":20,"v":91,"g":"E"},{"m":20,"v":87,"g":"E"},{"m":20,"v":77,"g":"E"},{"m":20,"v":63,"g":"E"},{"m":20,"v":42,"g":"E"},
{"m":21,"v":103,"g":"E"},{"m":21,"v":77,"g":"E"},{"m":21,"v":68,"g":"E"},{"m":21,"v":66,"g":"E"},
{"m":22,"v":89,"g":"E"},{"m":22,"v":82,"g":"E"},{"m":22,"v":73,"g":"E"},
{"m":23,"v":112,"g":"E"},{"m":23,"v":91,"g":"E"},{"m":23,"v":80,"g":"E"},{"m":23,"v":69,"g":"E"},
{"m":24,"v":111,"g":"E"},{"m":24,"v":98,"g":"E"},{"m":24,"v":84,"g":"E"},{"m":24,"v":56,"g":"E"},
{"m":25,"v":101,"g":"E"},{"m":25,"v":86,"g":"E"},{"m":25,"v":84,"g":"E"},
{"m":26,"v":98,"g":"E"},{"m":26,"v":88,"g":"E"},{"m":26,"v":80,"g":"E"},{"m":26,"v":63,"g":"E"},
{"m":27,"v":97,"g":"E"},
{"m":28,"v":80,"g":"E"},{"m":28,"v":76,"g":"E"},
{"m":29,"v":112,"g":"E"},{"m":29,"v":94,"g":"E"},{"m":29,"v":84,"g":"E"},{"m":29,"v":77,"g":"E"},{"m":29,"v":57,"g":"E"},
{"m":30,"v":112,"g":"E"},
{"m":31,"v":85,"g":"E"},{"m":31,"v":83,"g":"E"},
{"m":34,"v":81,"g":"E"},{"m":34,"v":74,"g":"E"},
{"m":35,"v":102,"g":"E"},{"m":35,"v":98,"g":"E"},{"m":35,"v":84,"g":"E"},
{"m":0,"v":102,"g":"N"},{"m":0,"v":97,"g":"N"},{"m":0,"v":94,"g":"N"},{"m":0,"v":92,"g":"N"},{"m":0,"v":89,"g":"N"},{"m":0,"v":86,"g":"N"},{"m":0,"v":83,"g":"N"},{"m":0,"v":80,"g":"N"},{"m":0,"v":78,"g":"N"},{"m":0,"v":76,"g":"N"},{"m":0,"v":72,"g":"N"},{"m":0,"v":64,"g":"N"},{"m":0,"v":62,"g":"N"},{"m":0,"v":58,"g":"N"},{"m":0,"v":55,"g":"N"},{"m":0,"v":52,"g":"N"},{"m":0,"v":49,"g":"N"},{"m":0,"v":47,"g":"N"},
{"m":1,"v":105,"g":"N"},{"m":1,"v":82,"g":"N"},{"m":1,"v":76,"g":"N"},
{"m":2,"v":90,"g":"N"},{"m":2,"v":85,"g":"N"},{"m":2,"v":82,"g":"N"},{"m":2,"v":76,"g":"N"},{"m":2,"v":62,"g":"N"},
{"m":3,"v":108,"g":"N"},{"m":3,"v":91,"g":"N"},{"m":3,"v":88,"g":"N"},{"m":3,"v":84,"g":"N"},{"m":3,"v":78,"g":"N"},{"m":3,"v":76,"g":"N"},{"m":3,"v":65,"g":"N"},
{"m":4,"v":104,"g":"N"},{"m":4,"v":100,"g":"N"},{"m":4,"v":72,"g":"N"},{"m":4,"v":62,"g":"N"},
{"m":5,"v":94,"g":"N"},{"m":5,"v":88,"g":"N"},{"m":5,"v":85,"g":"N"},{"m":5,"v":76,"g":"N"},{"m":5,"v":71,"g":"N"},{"m":5,"v":62,"g":"N"},{"m":5,"v":60,"g":"N"},
{"m":6,"v":114,"g":"N"},{"m":6,"v":111,"g":"N"},{"m":6,"v":97,"g":"N"},{"m":6,"v":94,"g":"N"},{"m":6,"v":91,"g":"N"},{"m":6,"v":88,"g":"N"},{"m":6,"v":85,"g":"N"},{"m":6,"v":82,"g":"N"},{"m":6,"v":79,"g":"N"},{"m":6,"v":76,"g":"N"},{"m":6,"v":73,"g":"N"},{"m":6,"v":70,"g":"N"},{"m":6,"v":67,"g":"N"},{"m":6,"v":52,"g":"N"},
{"m":7,"v":91,"g":"N"},{"m":7,"v":84,"g":"N"},
{"m":8,"v":104,"g":"N"},{"m":8,"v":103,"g":"N"},{"m":8,"v":100,"g":"N"},{"m":8,"v":98,"g":"N"},{"m":8,"v":92,"g":"N"},{"m":8,"v":85,"g":"N"},{"m":8,"v":80,"g":"N"},{"m":8,"v":74,"g":"N"},{"m":8,"v":65,"g":"N"},
{"m":9,"v":103,"g":"N"},{"m":9,"v":100,"g":"N"},{"m":9,"v":82,"g":"N"},{"m":9,"v":72,"g":"N"},{"m":9,"v":70,"g":"N"},
{"m":10,"v":104,"g":"N"},{"m":10,"v":94,"g":"N"},{"m":10,"v":82,"g":"N"},{"m":10,"v":79,"g":"N"},{"m":10,"v":57,"g":"N"},
{"m":11,"v":98,"g":"N"},{"m":11,"v":95,"g":"N"},{"m":11,"v":90,"g":"N"},{"m":11,"v":86,"g":"N"},{"m":11,"v":82,"g":"N"},{"m":11,"v":78,"g":"N"},{"m":11,"v":75,"g":"N"},{"m":11,"v":66,"g":"N"},{"m":11,"v":64,"g":"N"},
{"m":12,"v":98,"g":"N"},{"m":12,"v":91,"g":"N"},{"m":12,"v":86,"g":"N"},{"m":12,"v":84,"g":"N"},{"m":12,"v":82,"g":"N"},{"m":12,"v":72,"g":"N"},{"m":12,"v":70,"g":"N"},{"m":12,"v":66,"g":"N"},
{"m":13,"v":100,"g":"N"},{"m":13,"v":89,"g":"N"},{"m":13,"v":85,"g":"N"},{"m":13,"v":78,"g":"N"},{"m":13,"v":47,"g":"N"},
{"m":14,"v":99,"g":"N"},{"m":14,"v":96,"g":"N"},{"m":14,"v":92,"g":"N"},{"m":14,"v":86,"g":"N"},{"m":14,"v":82,"g":"N"},{"m":14,"v":78,"g":"N"},{"m":14,"v":66,"g":"N"},
{"m":15,"v":103,"g":"N"},{"m":15,"v":87,"g":"N"},{"m":15,"v":84,"g":"N"},{"m":15,"v":78,"g":"N"},{"m":15,"v":71,"g":"N"},{"m":15,"v":39,"g":"N"},
{"m":16,"v":90,"g":"N"},{"m":16,"v":88,"g":"N"},{"m":16,"v":85,"g":"N"},{"m":16,"v":72,"g":"N"},
{"m":17,"v":95,"g":"N"},{"m":17,"v":90,"g":"N"},{"m":17,"v":88,"g":"N"},{"m":17,"v":71,"g":"N"},{"m":17,"v":69,"g":"N"},
{"m":18,"v":105,"g":"N"},{"m":18,"v":98,"g":"N"},{"m":18,"v":93,"g":"N"},{"m":18,"v":86,"g":"N"},{"m":18,"v":83,"g":"N"},{"m":18,"v":73,"g":"N"},{"m":18,"v":31,"g":"N"},
{"m":19,"v":103,"g":"N"},{"m":19,"v":93,"g":"N"},{"m":19,"v":91,"g":"N"},{"m":19,"v":87,"g":"N"},{"m":19,"v":84,"g":"N"},{"m":19,"v":80,"g":"N"},{"m":19,"v":38,"g":"N"},
{"m":20,"v":92,"g":"N"},{"m":20,"v":83,"g":"N"},{"m":20,"v":74,"g":"N"},
{"m":21,"v":89,"g":"N"},
{"m":22,"v":121,"g":"N"},{"m":22,"v":105,"g":"N"},{"m":22,"v":102,"g":"N"},{"m":22,"v":86,"g":"N"},{"m":22,"v":84,"g":"N"},
{"m":23,"v":104,"g":"N"},{"m":23,"v":95,"g":"N"},{"m":23,"v":89,"g":"N"},{"m":23,"v":79,"g":"N"},{"m":23,"v":70,"g":"N"},{"m":23,"v":61,"g":"N"},
{"m":24,"v":114,"g":"N"},{"m":24,"v":92,"g":"N"},{"m":24,"v":83,"g":"N"},{"m":24,"v":73,"g":"N"},{"m":24,"v":48,"g":"N"},
{"m":25,"v":93,"g":"N"},{"m":25,"v":88,"g":"N"},{"m":25,"v":82,"g":"N"},{"m":25,"v":74,"g":"N"},
{"m":26,"v":79,"g":"N"},{"m":26,"v":70,"g":"N"},{"m":26,"v":67,"g":"N"},
{"m":27,"v":109,"g":"N"},{"m":27,"v":91,"g":"N"},{"m":27,"v":78,"g":"N"},{"m":27,"v":76,"g":"N"},{"m":27,"v":66,"g":"N"},
{"m":28,"v":79,"g":"N"},{"m":28,"v":69,"g":"N"},{"m":28,"v":61,"g":"N"},
{"m":29,"v":84,"g":"N"},{"m":29,"v":61,"g":"N"},
{"m":30,"v":79,"g":"N"},{"m":30,"v":76,"g":"N"},
{"m":31,"v":88,"g":"N"},{"m":31,"v":73,"g":"N"},
{"m":32,"v":99,"g":"N"},{"m":32,"v":63,"g":"N"},
{"m":34,"v":112,"g":"N"},{"m":34,"v":104,"g":"N"},
{"m":35,"v":90,"g":"N"},{"m":36,"v":82,"g":"N"}
],
"fev1Fit":[{"m":0,"v":82.7,"g":"Ef"},{"m":35,"v":86.0,"g":"Ef"},{"m":0,"v":80.5,"g":"Nf"},{"m":36,"v":86.2,"g":"Nf"}],
"fef":[
{"m":0,"v":150,"g":"E"},{"m":0,"v":128,"g":"E"},{"m":0,"v":126,"g":"E"},{"m":0,"v":122,"g":"E"},{"m":0,"v":116,"g":"E"},{"m":0,"v":111,"g":"E"},{"m":0,"v":108,"g":"E"},{"m":0,"v":96,"g":"E"},{"m":0,"v":90,"g":"E"},{"m":0,"v":85,"g":"E"},{"m":0,"v":80,"g":"E"},{"m":0,"v":75,"g":"E"},{"m":0,"v":70,"g":"E"},{"m":0,"v":65,"g":"E"},{"m":0,"v":60,"g":"E"},{"m":0,"v":55,"g":"E"},{"m":0,"v":50,"g":"E"},{"m":0,"v":45,"g":"E"},{"m":0,"v":40,"g":"E"},{"m":0,"v":35,"g":"E"},{"m":0,"v":30,"g":"E"},{"m":0,"v":25,"g":"E"},{"m":0,"v":22,"g":"E"},{"m":0,"v":19,"g":"E"},{"m":0,"v":16,"g":"E"},
{"m":1,"v":97,"g":"E"},{"m":1,"v":91,"g":"E"},{"m":1,"v":64,"g":"E"},{"m":1,"v":60,"g":"E"},{"m":1,"v":56,"g":"E"},{"m":1,"v":52,"g":"E"},{"m":1,"v":48,"g":"E"},{"m":1,"v":42,"g":"E"},{"m":1,"v":25,"g":"E"},
{"m":2,"v":110,"g":"E"},{"m":2,"v":95,"g":"E"},{"m":2,"v":92,"g":"E"},{"m":2,"v":87,"g":"E"},{"m":2,"v":79,"g":"E"},{"m":2,"v":74,"g":"E"},{"m":2,"v":60,"g":"E"},{"m":2,"v":55,"g":"E"},{"m":2,"v":51,"g":"E"},{"m":2,"v":48,"g":"E"},{"m":2,"v":38,"g":"E"},{"m":2,"v":33,"g":"E"},
{"m":3,"v":115,"g":"E"},{"m":3,"v":89,"g":"E"},{"m":3,"v":84,"g":"E"},{"m":3,"v":76,"g":"E"},{"m":3,"v":70,"g":"E"},{"m":3,"v":63,"g":"E"},{"m":3,"v":52,"g":"E"},{"m":3,"v":46,"g":"E"},{"m":3,"v":20,"g":"E"},
{"m":4,"v":100,"g":"E"},{"m":4,"v":92,"g":"E"},{"m":4,"v":85,"g":"E"},{"m":4,"v":75,"g":"E"},{"m":4,"v":48,"g":"E"},
{"m":5,"v":117,"g":"E"},{"m":5,"v":114,"g":"E"},{"m":5,"v":110,"g":"E"},{"m":5,"v":105,"g":"E"},{"m":5,"v":100,"g":"E"},{"m":5,"v":88,"g":"E"},{"m":5,"v":84,"g":"E"},{"m":5,"v":78,"g":"E"},{"m":5,"v":65,"g":"E"},{"m":5,"v":57,"g":"E"},{"m":5,"v":48,"g":"E"},{"m":5,"v":35,"g":"E"},{"m":5,"v":30,"g":"E"},{"m":5,"v":19,"g":"E"},
{"m":6,"v":120,"g":"E"},{"m":6,"v":117,"g":"E"},{"m":6,"v":105,"g":"E"},{"m":6,"v":100,"g":"E"},{"m":6,"v":96,"g":"E"},{"m":6,"v":90,"g":"E"},{"m":6,"v":85,"g":"E"},{"m":6,"v":80,"g":"E"},{"m":6,"v":77,"g":"E"},{"m":6,"v":70,"g":"E"},{"m":6,"v":65,"g":"E"},{"m":6,"v":52,"g":"E"},{"m":6,"v":41,"g":"E"},
{"m":7,"v":90,"g":"E"},{"m":7,"v":75,"g":"E"},{"m":7,"v":70,"g":"E"},{"m":7,"v":54,"g":"E"},{"m":7,"v":51,"g":"E"},{"m":7,"v":39,"g":"E"},{"m":7,"v":26,"g":"E"},{"m":7,"v":23,"g":"E"},
{"m":8,"v":137,"g":"E"},{"m":8,"v":118,"g":"E"},{"m":8,"v":115,"g":"E"},{"m":8,"v":110,"g":"E"},{"m":8,"v":105,"g":"E"},{"m":8,"v":100,"g":"E"},{"m":8,"v":95,"g":"E"},{"m":8,"v":88,"g":"E"},{"m":8,"v":82,"g":"E"},{"m":8,"v":78,"g":"E"},{"m":8,"v":68,"g":"E"},{"m":8,"v":60,"g":"E"},{"m":8,"v":47,"g":"E"},
{"m":9,"v":113,"g":"E"},{"m":9,"v":106,"g":"E"},{"m":9,"v":90,"g":"E"},{"m":9,"v":75,"g":"E"},{"m":9,"v":73,"g":"E"},{"m":9,"v":68,"g":"E"},{"m":9,"v":58,"g":"E"},
{"m":10,"v":140,"g":"E"},{"m":10,"v":110,"g":"E"},{"m":10,"v":95,"g":"E"},{"m":10,"v":90,"g":"E"},{"m":10,"v":85,"g":"E"},{"m":10,"v":80,"g":"E"},{"m":10,"v":75,"g":"E"},{"m":10,"v":60,"g":"E"},{"m":10,"v":55,"g":"E"},{"m":10,"v":50,"g":"E"},{"m":10,"v":45,"g":"E"},
{"m":11,"v":102,"g":"E"},{"m":11,"v":96,"g":"E"},{"m":11,"v":84,"g":"E"},{"m":11,"v":76,"g":"E"},{"m":11,"v":70,"g":"E"},{"m":11,"v":64,"g":"E"},{"m":11,"v":56,"g":"E"},{"m":11,"v":50,"g":"E"},{"m":11,"v":24,"g":"E"},
{"m":12,"v":108,"g":"E"},{"m":12,"v":104,"g":"E"},{"m":12,"v":95,"g":"E"},{"m":12,"v":90,"g":"E"},{"m":12,"v":80,"g":"E"},{"m":12,"v":70,"g":"E"},{"m":12,"v":62,"g":"E"},{"m":12,"v":55,"g":"E"},{"m":12,"v":50,"g":"E"},{"m":12,"v":40,"g":"E"},{"m":12,"v":37,"g":"E"},{"m":12,"v":34,"g":"E"},{"m":12,"v":30,"g":"E"},
{"m":13,"v":117,"g":"E"},{"m":13,"v":90,"g":"E"},{"m":13,"v":78,"g":"E"},{"m":13,"v":65,"g":"E"},{"m":13,"v":56,"g":"E"},{"m":13,"v":50,"g":"E"},
{"m":14,"v":140,"g":"E"},{"m":14,"v":110,"g":"E"},{"m":14,"v":93,"g":"E"},{"m":14,"v":82,"g":"E"},{"m":14,"v":75,"g":"E"},{"m":14,"v":70,"g":"E"},{"m":14,"v":63,"g":"E"},{"m":14,"v":50,"g":"E"},{"m":14,"v":45,"g":"E"},{"m":14,"v":40,"g":"E"},{"m":14,"v":36,"g":"E"},
{"m":15,"v":112,"g":"E"},{"m":15,"v":93,"g":"E"},{"m":15,"v":80,"g":"E"},{"m":15,"v":60,"g":"E"},{"m":15,"v":56,"g":"E"},{"m":15,"v":52,"g":"E"},{"m":15,"v":47,"g":"E"},{"m":15,"v":37,"g":"E"},
{"m":16,"v":136,"g":"E"},{"m":16,"v":113,"g":"E"},{"m":16,"v":104,"g":"E"},{"m":16,"v":96,"g":"E"},{"m":16,"v":93,"g":"E"},{"m":16,"v":81,"g":"E"},{"m":16,"v":72,"g":"E"},{"m":16,"v":70,"g":"E"},{"m":16,"v":64,"g":"E"},
{"m":17,"v":131,"g":"E"},{"m":17,"v":108,"g":"E"},{"m":17,"v":102,"g":"E"},{"m":17,"v":96,"g":"E"},{"m":17,"v":90,"g":"E"},{"m":17,"v":84,"g":"E"},{"m":17,"v":76,"g":"E"},{"m":17,"v":54,"g":"E"},{"m":17,"v":35,"g":"E"},
{"m":18,"v":104,"g":"E"},{"m":18,"v":93,"g":"E"},{"m":18,"v":80,"g":"E"},{"m":18,"v":70,"g":"E"},{"m":18,"v":59,"g":"E"},{"m":18,"v":34,"g":"E"},
{"m":19,"v":157,"g":"E"},{"m":19,"v":110,"g":"E"},{"m":19,"v":92,"g":"E"},{"m":19,"v":78,"g":"E"},{"m":19,"v":68,"g":"E"},{"m":19,"v":64,"g":"E"},{"m":19,"v":55,"g":"E"},{"m":19,"v":43,"g":"E"},{"m":19,"v":34,"g":"E"},
{"m":20,"v":114,"g":"E"},{"m":20,"v":107,"g":"E"},{"m":20,"v":102,"g":"E"},{"m":20,"v":82,"g":"E"},{"m":20,"v":70,"g":"E"},{"m":20,"v":57,"g":"E"},{"m":20,"v":47,"g":"E"},{"m":20,"v":29,"g":"E"},{"m":20,"v":20,"g":"E"},
{"m":21,"v":84,"g":"E"},{"m":21,"v":82,"g":"E"},{"m":21,"v":73,"g":"E"},{"m":21,"v":61,"g":"E"},{"m":21,"v":40,"g":"E"},
{"m":22,"v":76,"g":"E"},{"m":22,"v":69,"g":"E"},{"m":22,"v":59,"g":"E"},{"m":22,"v":47,"g":"E"},
{"m":23,"v":125,"g":"E"},{"m":23,"v":95,"g":"E"},{"m":23,"v":79,"g":"E"},{"m":23,"v":69,"g":"E"},{"m":23,"v":62,"g":"E"},{"m":23,"v":58,"g":"E"},{"m":23,"v":51,"g":"E"},{"m":23,"v":29,"g":"E"},
{"m":24,"v":104,"g":"E"},{"m":24,"v":100,"g":"E"},{"m":24,"v":77,"g":"E"},{"m":24,"v":62,"g":"E"},{"m":24,"v":57,"g":"E"},{"m":24,"v":30,"g":"E"},{"m":24,"v":28,"g":"E"},
{"m":25,"v":106,"g":"E"},{"m":25,"v":104,"g":"E"},{"m":25,"v":76,"g":"E"},{"m":25,"v":62,"g":"E"},
{"m":26,"v":87,"g":"E"},{"m":26,"v":84,"g":"E"},{"m":26,"v":77,"g":"E"},{"m":26,"v":66,"g":"E"},{"m":26,"v":45,"g":"E"},{"m":26,"v":40,"g":"E"},
{"m":27,"v":67,"g":"E"},{"m":27,"v":63,"g":"E"},
{"m":28,"v":132,"g":"E"},{"m":28,"v":85,"g":"E"},{"m":28,"v":75,"g":"E"},
{"m":29,"v":181,"g":"E"},{"m":29,"v":91,"g":"E"},{"m":29,"v":79,"g":"E"},{"m":29,"v":77,"g":"E"},{"m":29,"v":27,"g":"E"},
{"m":30,"v":118,"g":"E"},
{"m":31,"v":82,"g":"E"},{"m":31,"v":61,"g":"E"},{"m":31,"v":56,"g":"E"},
{"m":34,"v":113,"g":"E"},{"m":34,"v":65,"g":"E"},
{"m":35,"v":77,"g":"E"},{"m":35,"v":73,"g":"E"},{"m":35,"v":67,"g":"E"},
{"m":0,"v":99,"g":"N"},{"m":0,"v":95,"g":"N"},{"m":0,"v":90,"g":"N"},{"m":0,"v":85,"g":"N"},{"m":0,"v":82,"g":"N"},{"m":0,"v":78,"g":"N"},{"m":0,"v":75,"g":"N"},{"m":0,"v":72,"g":"N"},{"m":0,"v":68,"g":"N"},{"m":0,"v":65,"g":"N"},{"m":0,"v":62,"g":"N"},{"m":0,"v":58,"g":"N"},{"m":0,"v":55,"g":"N"},{"m":0,"v":50,"g":"N"},{"m":0,"v":45,"g":"N"},{"m":0,"v":40,"g":"N"},{"m":0,"v":38,"g":"N"},{"m":0,"v":35,"g":"N"},{"m":0,"v":32,"g":"N"},{"m":0,"v":30,"g":"N"},{"m":0,"v":28,"g":"N"},{"m":0,"v":26,"g":"N"},
{"m":1,"v":128,"g":"N"},{"m":1,"v":92,"g":"N"},{"m":1,"v":84,"g":"N"},{"m":1,"v":71,"g":"N"},{"m":1,"v":63,"g":"N"},{"m":1,"v":55,"g":"N"},{"m":1,"v":41,"g":"N"},
{"m":2,"v":90,"g":"N"},{"m":2,"v":76,"g":"N"},{"m":2,"v":65,"g":"N"},{"m":2,"v":56,"g":"N"},{"m":2,"v":40,"g":"N"},
{"m":3,"v":106,"g":"N"},{"m":3,"v":104,"g":"N"},{"m":3,"v":72,"g":"N"},{"m":3,"v":68,"g":"N"},{"m":3,"v":61,"g":"N"},
{"m":4,"v":110,"g":"N"},{"m":4,"v":85,"g":"N"},{"m":4,"v":64,"g":"N"},{"m":4,"v":55,"g":"N"},{"m":4,"v":45,"g":"N"},
{"m":5,"v":98,"g":"N"},{"m":5,"v":88,"g":"N"},{"m":5,"v":78,"g":"N"},{"m":5,"v":72,"g":"N"},{"m":5,"v":56,"g":"N"},{"m":5,"v":44,"g":"N"},{"m":5,"v":8,"g":"N"},
{"m":6,"v":105,"g":"N"},{"m":6,"v":98,"g":"N"},{"m":6,"v":92,"g":"N"},{"m":6,"v":88,"g":"N"},{"m":6,"v":82,"g":"N"},{"m":6,"v":75,"g":"N"},{"m":6,"v":68,"g":"N"},{"m":6,"v":60,"g":"N"},{"m":6,"v":52,"g":"N"},{"m":6,"v":40,"g":"N"},{"m":6,"v":37,"g":"N"},
{"m":7,"v":96,"g":"N"},{"m":7,"v":71,"g":"N"},
{"m":8,"v":95,"g":"N"},{"m":8,"v":88,"g":"N"},{"m":8,"v":78,"g":"N"},{"m":8,"v":72,"g":"N"},{"m":8,"v":65,"g":"N"},{"m":8,"v":62,"g":"N"},{"m":8,"v":58,"g":"N"},
{"m":9,"v":138,"g":"N"},{"m":9,"v":124,"g":"N"},{"m":9,"v":90,"g":"N"},{"m":9,"v":51,"g":"N"},{"m":9,"v":40,"g":"N"},{"m":9,"v":34,"g":"N"},
{"m":10,"v":111,"g":"N"},{"m":10,"v":98,"g":"N"},{"m":10,"v":96,"g":"N"},{"m":10,"v":66,"g":"N"},{"m":10,"v":58,"g":"N"},
{"m":11,"v":110,"g":"N"},{"m":11,"v":106,"g":"N"},{"m":11,"v":96,"g":"N"},{"m":11,"v":93,"g":"N"},{"m":11,"v":88,"g":"N"},{"m":11,"v":84,"g":"N"},{"m":11,"v":80,"g":"N"},{"m":11,"v":66,"g":"N"},{"m":11,"v":62,"g":"N"},{"m":11,"v":56,"g":"N"},{"m":11,"v":35,"g":"N"},{"m":11,"v":30,"g":"N"},
{"m":12,"v":121,"g":"N"},{"m":12,"v":110,"g":"N"},{"m":12,"v":101,"g":"N"},{"m":12,"v":90,"g":"N"},{"m":12,"v":82,"g":"N"},{"m":12,"v":75,"g":"N"},{"m":12,"v":60,"g":"N"},{"m":12,"v":55,"g":"N"},{"m":12,"v":41,"g":"N"},{"m":12,"v":2,"g":"N"},
{"m":13,"v":97,"g":"N"},{"m":13,"v":95,"g":"N"},{"m":13,"v":52,"g":"N"},{"m":13,"v":48,"g":"N"},{"m":13,"v":20,"g":"N"},
{"m":14,"v":116,"g":"N"},{"m":14,"v":108,"g":"N"},{"m":14,"v":100,"g":"N"},{"m":14,"v":94,"g":"N"},{"m":14,"v":90,"g":"N"},{"m":14,"v":70,"g":"N"},{"m":14,"v":64,"g":"N"},{"m":14,"v":55,"g":"N"},{"m":14,"v":48,"g":"N"},{"m":14,"v":35,"g":"N"},
{"m":15,"v":120,"g":"N"},{"m":15,"v":108,"g":"N"},{"m":15,"v":92,"g":"N"},{"m":15,"v":57,"g":"N"},{"m":15,"v":17,"g":"N"},
{"m":16,"v":88,"g":"N"},{"m":16,"v":60,"g":"N"},{"m":16,"v":50,"g":"N"},{"m":16,"v":38,"g":"N"},
{"m":17,"v":103,"g":"N"},{"m":17,"v":99,"g":"N"},{"m":17,"v":91,"g":"N"},{"m":17,"v":80,"g":"N"},{"m":17,"v":72,"g":"N"},{"m":17,"v":65,"g":"N"},{"m":17,"v":44,"g":"N"},
{"m":18,"v":140,"g":"N"},{"m":18,"v":100,"g":"N"},{"m":18,"v":88,"g":"N"},{"m":18,"v":76,"g":"N"},{"m":18,"v":51,"g":"N"},{"m":18,"v":13,"g":"N"},
{"m":19,"v":132,"g":"N"},{"m":19,"v":109,"g":"N"},{"m":19,"v":99,"g":"N"},{"m":19,"v":77,"g":"N"},{"m":19,"v":21,"g":"N"},
{"m":20,"v":123,"g":"N"},{"m":20,"v":113,"g":"N"},{"m":20,"v":103,"g":"N"},{"m":20,"v":95,"g":"N"},{"m":20,"v":76,"g":"N"},
{"m":21,"v":95,"g":"N"},
{"m":22,"v":115,"g":"N"},{"m":22,"v":110,"g":"N"},{"m":22,"v":105,"g":"N"},{"m":22,"v":86,"g":"N"},{"m":22,"v":77,"g":"N"},
{"m":23,"v":106,"g":"N"},{"m":23,"v":77,"g":"N"},{"m":23,"v":75,"g":"N"},{"m":23,"v":44,"g":"N"},{"m":23,"v":41,"g":"N"},{"m":23,"v":28,"g":"N"},
{"m":24,"v":128,"g":"N"},{"m":24,"v":86,"g":"N"},{"m":24,"v":65,"g":"N"},{"m":24,"v":53,"g":"N"},{"m":24,"v":44,"g":"N"},{"m":24,"v":37,"g":"N"},
{"m":25,"v":152,"g":"N"},{"m":25,"v":109,"g":"N"},{"m":25,"v":72,"g":"N"},{"m":25,"v":67,"g":"N"},{"m":25,"v":49,"g":"N"},
{"m":26,"v":76,"g":"N"},{"m":26,"v":42,"g":"N"},{"m":26,"v":36,"g":"N"},
{"m":27,"v":101,"g":"N"},{"m":27,"v":72,"g":"N"},{"m":27,"v":59,"g":"N"},{"m":27,"v":47,"g":"N"},{"m":27,"v":38,"g":"N"},
{"m":28,"v":42,"g":"N"},{"m":28,"v":31,"g":"N"},
{"m":29,"v":31,"g":"N"},
{"m":30,"v":56,"g":"N"},{"m":30,"v":52,"g":"N"},
{"m":31,"v":109,"g":"N"},{"m":31,"v":97,"g":"N"},
{"m":32,"v":73,"g":"N"},{"m":32,"v":61,"g":"N"},
{"m":34,"v":169,"g":"N"},{"m":34,"v":92,"g":"N"},
{"m":35,"v":110,"g":"N"},{"m":36,"v":53,"g":"N"}
],
"fefFit":[{"m":0,"v":71.2,"g":"Ef"},{"m":35,"v":78.8,"g":"Ef"},{"m":0,"v":68.6,"g":"Nf"},{"m":36,"v":84.1,"g":"Nf"}]
},
"resolve":{"scale":{"color":"independent","shape":"independent"},"legend":{"color":"independent","shape":"independent"}},
"spacing":30,
"hconcat":[
 {"spacing":4,
  "resolve":{"scale":{"color":"independent","shape":"independent"},"legend":{"color":"independent","shape":"independent"}},
  "vconcat":[
  {"title":{"text":"A","dx":-5,"offset":24},
   "width":293,"height":169,
   "encoding":{
    "x":{"field":"m","type":"quantitative","scale":{"domain":[-0.73,36.68],"nice":false,"zero":false},"axis":{"values":[0,3,6,9,12,15,18,21,24,27,30,33,36],"title":"Time (months)"}},
    "y":{"field":"v","type":"quantitative","scale":{"domain":[5,173],"nice":false,"zero":false},"axis":{"values":[10,30,50,70,90,110,130,150,170],"title":"FVC"}},
    "color":{"field":"g","type":"nominal","scale":{"domain":["E","N","Ef","Nf"],"range":["#ff2a2a","#1a476f","#ff2a2a","#1a476f"]},
     "legend":{"legendX":14.8,"legendY":193.7,"rowPadding":1.7,"columnPadding":2.6,"labelExpr":"datum.value == 'E' ? 'Exacerbation' : datum.value == 'N' ? 'No exacerbation' : 'Adjusted value (linear regression)'"}}
   },
   "layer":[
    {"data":{"name":"fvc"},"mark":{"type":"point"},
     "encoding":{"shape":{"field":"g","type":"nominal","scale":{"domain":["E","N","Ef","Nf"],"range":["M-0.35,0A0.35,0.35 0 1,0 0.35,0A0.35,0.35 0 1,0 -0.35,0","M-0.35,0A0.35,0.35 0 1,0 0.35,0A0.35,0.35 0 1,0 -0.35,0","M-12.07,0H-0.06","M-12.07,0H-0.06"]}}}},
    {"data":{"name":"fvcFit"},"mark":{"type":"line","strokeWidth":1.8}}
   ]},
  {"title":{"text":"B","dx":-5,"offset":22},
   "width":293,"height":172,
   "encoding":{
    "x":{"field":"m","type":"quantitative","scale":{"domain":[-0.73,36.68],"nice":false,"zero":false},"axis":{"values":[0,3,6,9,12,15,18,21,24,27,30,33,36],"title":"Time (months)"}},
    "y":{"field":"v","type":"quantitative","scale":{"domain":[27.5,133.3],"nice":false,"zero":false},"axis":{"values":[40,50,60,70,80,90,100,110,120,130],"title":"FEV₁"}},
    "color":{"field":"g","type":"nominal","scale":{"domain":["E","N","Ef","Nf"],"range":["#ff2a2a","#1a476f","#ff2a2a","#1a476f"]},
     "legend":{"legendX":14.8,"legendY":197.5,"rowPadding":2.4,"columnPadding":2,"labelExpr":"datum.value == 'E' ? 'Exacerbation' : datum.value == 'N' ? 'No exacerbation' : 'Adjusted value (linear regression)'"}}
   },
   "layer":[
    {"data":{"name":"fev1"},"mark":{"type":"point"},
     "encoding":{"shape":{"field":"g","type":"nominal","scale":{"domain":["E","N","Ef","Nf"],"range":["M-0.35,0A0.35,0.35 0 1,0 0.35,0A0.35,0.35 0 1,0 -0.35,0","M-0.35,0A0.35,0.35 0 1,0 0.35,0A0.35,0.35 0 1,0 -0.35,0","M-12.07,0H-0.06","M-12.07,0H-0.06"]}}}},
    {"data":{"name":"fev1Fit"},"mark":{"type":"line","strokeWidth":1.8}}
   ]}
 ]},
 {"spacing":14,
  "resolve":{"scale":{"color":"independent","shape":"independent"},"legend":{"color":"independent","shape":"independent"}},
  "vconcat":[
  {"title":{"text":"C","dx":-8,"offset":24},
   "width":299,"height":174,
   "encoding":{
    "x":{"field":"m","type":"quantitative","scale":{"domain":[-0.53,36.66],"nice":false,"zero":false},"axis":{"values":[0,3,6,9,12,15,18,21,24,27,30,33,36],"title":"Time (months)"}},
    "y":{"field":"v","type":"quantitative","scale":{"domain":[37,122.6],"nice":false,"zero":false},"axis":{"values":[40,50,60,70,80,90,100,110,120],"title":"FEV₁/ FVC ratio"}},
    "color":{"field":"g","type":"nominal","scale":{"domain":["E","N","Ef","Nf"],"range":["#ff2a2a","#1a476f","#ff2a2a","#1a476f"]},
     "legend":{"legendX":14.8,"legendY":198.4,"rowPadding":2.6,"columnPadding":4.3,"labelExpr":"datum.value == 'E' ? 'Exacerbation' : datum.value == 'N' ? 'No exacerbation' : 'Adjusted value (linear regression)'"}}
   },
   "layer":[
    {"data":{"name":"ratio"},"mark":{"type":"point"},
     "encoding":{"shape":{"field":"g","type":"nominal","scale":{"domain":["E","N","Ef","Nf"],"range":["M-0.35,0A0.35,0.35 0 1,0 0.35,0A0.35,0.35 0 1,0 -0.35,0","M-0.35,0A0.35,0.35 0 1,0 0.35,0A0.35,0.35 0 1,0 -0.35,0","M-12.07,0H-0.06","M-12.07,0H-0.06"]}}}},
    {"data":{"name":"ratioFit"},"mark":{"type":"line","strokeWidth":1.8}}
   ]},
  {"title":{"text":"D","dx":-8,"offset":10},
   "width":295,"height":171,
   "encoding":{
    "x":{"field":"m","type":"quantitative","scale":{"domain":[-0.89,36.7],"nice":false,"zero":false},"axis":{"values":[0,3,6,9,12,15,18,21,24,27,30,33,36],"title":"Time (months)"}},
    "y":{"field":"v","type":"quantitative","scale":{"domain":[-7.5,186.8],"nice":false,"zero":false},"axis":{"values":[0,20,40,60,80,100,120,140,160,180],"title":"FEF₂₅₋₇₅%"}},
    "color":{"field":"g","type":"nominal","scale":{"domain":["E","N","Ef","Nf"],"range":["#ff2a2a","#1a476f","#ff2a2a","#1a476f"]},
     "legend":{"legendX":17.1,"legendY":194.8,"rowPadding":2,"columnPadding":3,"labelExpr":"datum.value == 'E' ? 'Exacerbation' : datum.value == 'N' ? 'No exacerbation' : 'Adjusted value (linear regression)'"}}
   },
   "layer":[
    {"data":{"name":"fef"},"mark":{"type":"point"},
     "encoding":{"shape":{"field":"g","type":"nominal","scale":{"domain":["E","N","Ef","Nf"],"range":["M-0.35,0A0.35,0.35 0 1,0 0.35,0A0.35,0.35 0 1,0 -0.35,0","M-0.35,0A0.35,0.35 0 1,0 0.35,0A0.35,0.35 0 1,0 -0.35,0","M-12.07,0H-0.06","M-12.07,0H-0.06"]}}}},
    {"data":{"name":"fefFit"},"mark":{"type":"line","strokeWidth":1.8}}
   ]}
 ]}
]
}
